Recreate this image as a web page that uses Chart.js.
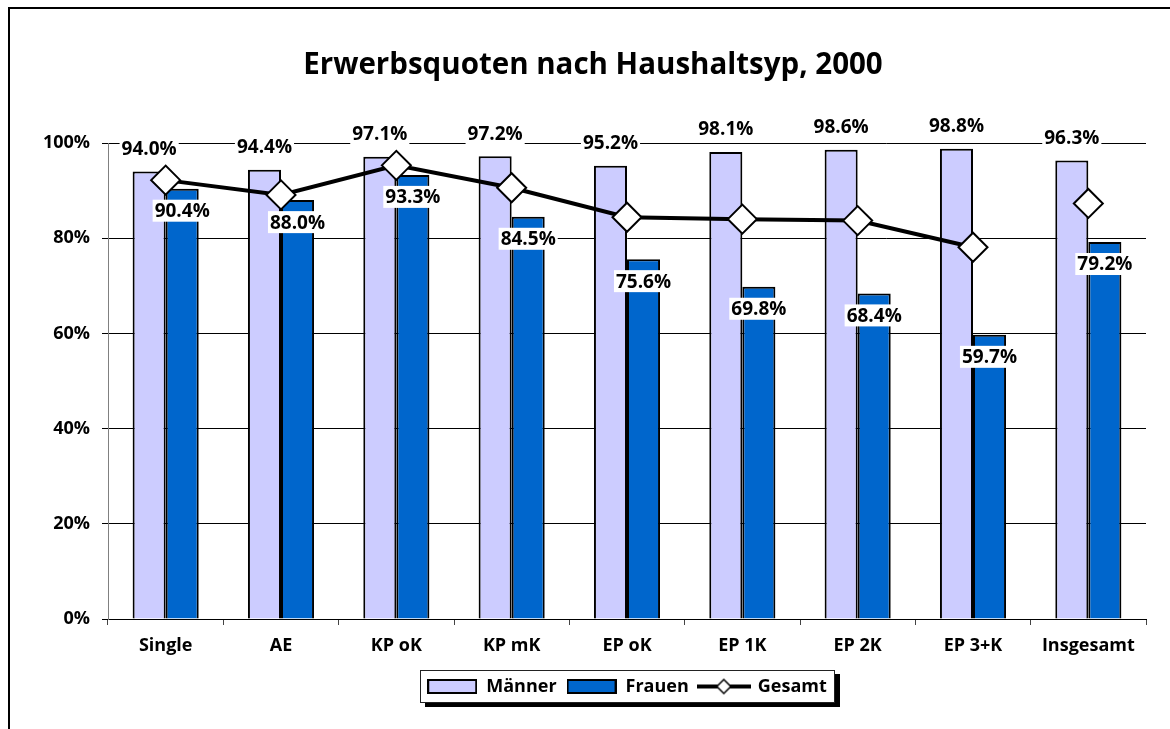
<!DOCTYPE html>
<html>
<head>
<meta charset="utf-8">
<script src="https://cdn.jsdelivr.net/npm/chart.js@4"></script>
<style>
  html, body { margin: 0; padding: 0; background: #fff; overflow: hidden; }
  #frame { position: absolute; left: 8px; top: 7px; width: 1300px; height: 900px; border: 2px solid #000; }
  #chart { position: absolute; left: 0; top: 0; }
</style>
</head>
<body>
<div id="frame"></div>
<canvas id="chart" width="1170" height="729"></canvas>
<script>
const categories = ["Single", "AE", "KP oK", "KP mK", "EP oK", "EP 1K", "EP 2K", "EP 3+K", "Insgesamt"];
const maenner = [94.0, 94.4, 97.1, 97.2, 95.2, 98.1, 98.6, 98.8, 96.3];
const frauen = [90.4, 88.0, 93.3, 84.5, 75.6, 69.8, 68.4, 59.7, 79.2];
const gesamt = [92.2, 89.1, 95.3, 90.6, 84.4, 84.0, 83.7, 78.1, 87.3];
const yTickLabels = ["0%", "20%", "40%", "60%", "80%", "100%"];

const FONT = '"Open Sans", sans-serif';
Chart.defaults.font.family = FONT;
Chart.defaults.font.weight = "bold";
Chart.defaults.font.size = 18;
Chart.defaults.color = "#000";

function swatch(w, h, paint) {
  const c = document.createElement("canvas");
  c.width = w;
  c.height = h;
  paint(c.getContext("2d"), w, h);
  return c;
}

const legendSwatches = [
  swatch(50, 15, (ctx, w, h) => {
    ctx.fillStyle = "#CCCCFF";
    ctx.fillRect(1, 1, w - 2, h - 2);
    ctx.lineWidth = 2;
    ctx.strokeRect(1, 1, w - 2, h - 2);
  }),
  swatch(50, 15, (ctx, w, h) => {
    ctx.fillStyle = "#0066CC";
    ctx.fillRect(1, 1, w - 2, h - 2);
    ctx.lineWidth = 2;
    ctx.strokeRect(1, 1, w - 2, h - 2);
  }),
  swatch(54, 18, (ctx, w, h) => {
    ctx.lineWidth = 4;
    ctx.beginPath();
    ctx.moveTo(0, h / 2);
    ctx.lineTo(w, h / 2);
    ctx.stroke();
    ctx.beginPath();
    ctx.moveTo(w / 2, h / 2 - 7);
    ctx.lineTo(w / 2 + 7, h / 2);
    ctx.lineTo(w / 2, h / 2 + 7);
    ctx.lineTo(w / 2 - 7, h / 2);
    ctx.closePath();
    ctx.fillStyle = "#fff";
    ctx.fill();
    ctx.lineWidth = 1.5;
    ctx.stroke();
  }),
];

// value labels with white boxes, drawn over the bars but under the line
const valueLabels = {
  id: "valueLabels",
  beforeDatasetDraw(chart, args) {
    if (args.index !== 2) return;
    const ctx = chart.ctx;
    ctx.save();
    ctx.font = "bold 19px " + FONT;
    ctx.textAlign = "center";
    ctx.textBaseline = "middle";
    [0, 1].forEach((di) => {
      const values = chart.data.datasets[di].data;
      chart.getDatasetMeta(di).data.forEach((bar, i) => {
        const text = values[i].toFixed(1) + "%";
        const cy = di === 0 ? bar.y - 23 : bar.y + 22;
        const w = ctx.measureText(text).width + 4;
        ctx.fillStyle = "#fff";
        ctx.fillRect(bar.x - w / 2, cy - 11, w, 22);
        ctx.fillStyle = "#000";
        ctx.fillText(text, bar.x, cy + 1);
      });
    });
    ctx.restore();
  },
};

// framed legend with shadow
const legendFrame = {
  id: "legendFrame",
  beforeDraw(chart) {
    const boxes = chart.legend && chart.legend.legendHitBoxes;
    if (!boxes || !boxes.length) return;
    const ctx = chart.ctx;
    const first = boxes[0];
    const last = boxes[boxes.length - 1];
    const cy = first.top + first.height / 2;
    const x = Math.round(first.left - 7);
    const y = Math.round(cy - 16.5);
    const w = Math.round(last.left + last.width + 8 - x);
    const h = 33;
    ctx.save();
    ctx.fillStyle = "#000";
    ctx.fillRect(x + 5, y + 4, w, h);
    ctx.fillStyle = "#fff";
    ctx.fillRect(x, y, w, h);
    ctx.strokeStyle = "#222";
    ctx.lineWidth = 1;
    ctx.strokeRect(x + 0.5, y + 0.5, w - 1, h - 1);
    ctx.restore();
  },
};

new Chart(document.getElementById("chart"), {
  type: "bar",
  data: {
    labels: categories,
    datasets: [
      {
        label: "Männer",
        data: maenner,
        backgroundColor: "#CCCCFF",
        borderColor: "#000",
        borderWidth: 2,
        categoryPercentage: 0.573,
        barPercentage: 1.0,
      },
      {
        label: "Frauen",
        data: frauen,
        backgroundColor: "#0066CC",
        borderColor: "#000",
        borderWidth: 2,
        categoryPercentage: 0.573,
        barPercentage: 1.0,
      },
      {
        type: "line",
        label: "Gesamt",
        data: gesamt,
        order: -1,
        borderColor: "#000",
        borderWidth: 4,
        tension: 0,
        clip: false,
        pointStyle: "rectRot",
        pointRadius: 14.5,
        pointBackgroundColor: "#fff",
        pointBorderColor: "#000",
        pointBorderWidth: 2,
        segment: {
          borderColor: (c) => (c.p1DataIndex === categories.length - 1 ? "rgba(0,0,0,0)" : "#000"),
        },
      },
    ],
  },
  options: {
    responsive: false,
    animation: false,
    layout: { padding: { left: 40, right: 24, top: 0, bottom: 23.5 } },
    plugins: {
      title: {
        display: true,
        text: "Erwerbsquoten nach Haushaltsyp, 2000",
        font: { size: 29.5, weight: "bold" },
        color: "#000",
        padding: { top: 48, bottom: 59.6 },
      },
      legend: {
        position: "bottom",
        fullSize: false,
        labels: {
          usePointStyle: true,
          pointStyleWidth: 50,
          padding: 10,
          color: "#000",
          font: { size: 18, weight: "bold" },
          sort: (a, b) => a.datasetIndex - b.datasetIndex,
          generateLabels: (chart) =>
            Chart.defaults.plugins.legend.labels.generateLabels(chart).map((item) => {
              item.pointStyle = legendSwatches[item.datasetIndex];
              return item;
            }),
        },
      },
      tooltip: { enabled: false },
    },
    scales: {
      x: {
        grid: { display: true, drawOnChartArea: false, drawTicks: true, tickLength: 6, color: "#444", offset: true },
        border: { color: "#000", width: 1 },
        ticks: { padding: 10, color: "#000", maxRotation: 0, autoSkip: false },
        afterFit: (s) => { s.height = 48.5; },
      },
      y: {
        min: 0,
        max: 100,
        ticks: { stepSize: 20, padding: 12, color: "#000", callback: (v, i) => yTickLabels[i] },
        grid: { color: "#000", lineWidth: 1, tickLength: 6 },
        border: { color: "#808080", width: 1 },
        afterFit: (s) => { s.width = 68; },
      },
    },
  },
  plugins: [legendFrame, valueLabels],
});
</script>
</body>
</html>
